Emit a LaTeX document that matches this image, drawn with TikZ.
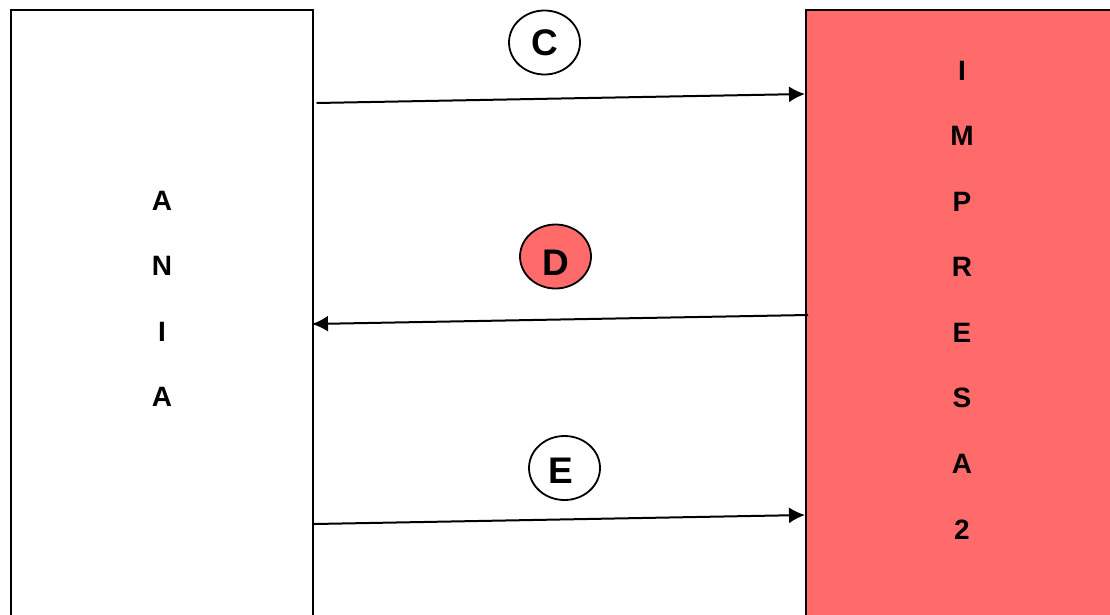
\documentclass[tikz,border=0pt]{standalone}
\usepackage{fontspec}
\setmainfont{Liberation Sans}
\usetikzlibrary{arrows.meta,shapes.geometric}
\definecolor{boxred}{HTML}{FF6A6A}
\tikzset{
  panel/.style={draw=black,line width=2pt},
  letter/.style={font=\fontsize{28}{32}\selectfont\bfseries,inner sep=0pt,anchor=center},
  tag/.style={draw=black,line width=1.8pt,ellipse,minimum width=71pt,minimum height=64pt,inner sep=0pt},
  big/.style={font=\fontsize{37}{41}\selectfont\bfseries,inner sep=0pt},
  flow/.style={draw=black,line width=2pt,-{Latex[length=16pt,width=16pt]}}
}
\begin{document}
\begin{tikzpicture}[x=1pt,y=-1pt]
\useasboundingbox (0,0) rectangle (1110,614);
\fill[white] (0,0) rectangle (1110,614);
\clip (0,0) rectangle (1110,614);
\path[panel] (11,700) -- (11,10) -- (313,10) -- (313,700);
\path[panel,fill=boxred] (806,700) -- (806,10) -- (1114,10) -- (1114,700);
\node[letter] (a1) at (162,200.5) {A};
\node[letter] (a2) at (162,265.5) {N};
\node[letter] (a3) at (162,331.5) {I};
\node[letter] (a4) at (162,396.5) {A};
\node[letter] (i1) at (962,70.5) {I};
\node[letter] (i2) at (962,136) {M};
\node[letter] (i3) at (962,201.5) {P};
\node[letter] (i4) at (962,267) {R};
\node[letter] (i5) at (962,332.5) {E};
\node[letter] (i6) at (962,397.5) {S};
\node[letter] (i7) at (962,463.5) {A};
\node[letter] (i8) at (962,529.5) {2};
\node[tag] (c) at (544.5,42.5) {};
\node[big] (cl) at (545,42.5) {C};
\node[tag,fill=boxred] (d) at (555.5,256.5) {};
\node[big] (dl) at (556,262.5) {D};
\node[tag] (e) at (564.5,468) {};
\node[big] (el) at (561,470.5) {E};
\coordinate (c1) at (316.5,103);
\coordinate (c2) at (805,94);
\coordinate (d1) at (808,315);
\coordinate (d2) at (312,324);
\coordinate (e1) at (314,524);
\coordinate (e2) at (805,515);
\draw[flow] (c1) -- (c2);
\draw[flow] (d1) -- (d2);
\draw[flow] (e1) -- (e2);
\end{tikzpicture}
\end{document}
